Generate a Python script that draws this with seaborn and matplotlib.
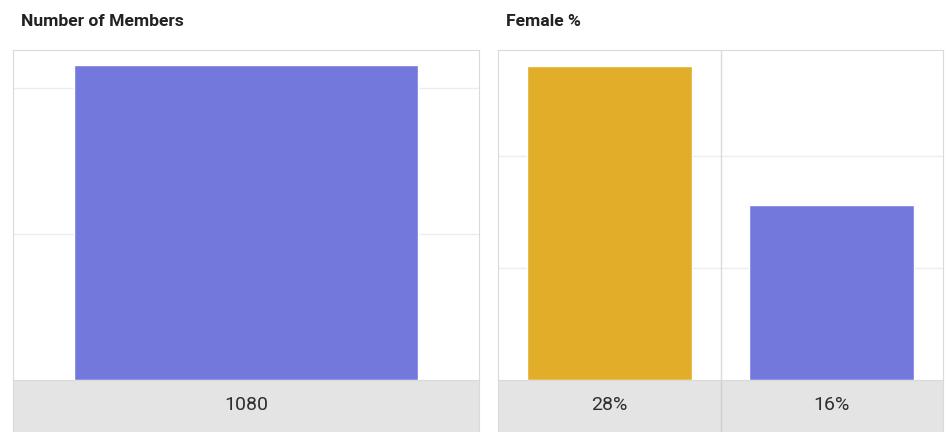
import matplotlib
matplotlib.use("Agg")
import matplotlib.pyplot as plt
import seaborn as sns
import pandas as pd

# chart values
member_labels = ["1080"]
member_counts = [1080]
female_labels = ["28%", "16%"]
female_pct = [28, 15.6]

blue = "#7378DC"
gold = "#E2AE2A"
band_grey = "#E4E4E4"
edge_grey = "#DADADA"
grid_grey = "#EDEDED"

sns.set_style("white")
plt.rcParams["font.family"] = ["Roboto", "DejaVu Sans"]

W, H = 950, 432
fig = plt.figure(figsize=(W / 100, H / 100), dpi=100)


def box(x0, y0, x1, y1):
    # pixel box (top-left origin) -> figure fraction rect
    return [x0 / W, 1 - y1 / H, (x1 - x0) / W, (y1 - y0) / H]


def panel(x0, x1, labels, values, colors, ymax, ticks, title):
    ax = fig.add_axes(box(x0, 50, x1, 380))
    band = fig.add_axes(box(x0, 380, x1, 432))
    df = pd.DataFrame({"cat": labels, "val": values})
    sns.barplot(data=df, x="cat", y="val", hue="cat", palette=colors,
                width=0.74, legend=False, saturation=1, ax=ax)
    ax.set_ylim(0, ymax)
    ax.set_yticks(ticks)
    ax.yaxis.grid(True, color=grid_grey, lw=1)
    ax.set_axisbelow(True)
    ax.set_xlabel("")
    ax.set_ylabel("")
    ax.tick_params(left=False, bottom=False, labelleft=False, labelbottom=False)
    for s in ax.spines.values():
        s.set_color(edge_grey)
    ax.spines["bottom"].set_visible(False)

    band.set_facecolor(band_grey)
    band.set_xlim(ax.get_xlim())
    band.set_ylim(0, 1)
    band.set_xticks([])
    band.set_yticks([])
    for s in band.spines.values():
        s.set_color(edge_grey)
    band.spines["bottom"].set_visible(False)
    for i, lab in enumerate(labels):
        band.text(i, 0.52, lab, ha="center", va="center", fontsize=14, color="#2E2E2E")
        if i > 0:
            ax.axvline(i - 0.5, color=edge_grey, lw=1)
            band.axvline(i - 0.5, color="#CFCFCF", lw=1)

    fig.text(x0 / W + 8 / W, 1 - 21 / H, title, ha="left", va="center",
             fontsize=12.6, fontweight="bold", color="#222222")


panel(13, 479, member_labels, member_counts, [blue], 1130, [500, 1000],
      "Number of Members")
panel(498, 943, female_labels, female_pct, [gold, blue], 29.4, [10, 20],
      "Female %")

fig.savefig("out.png", dpi=100, facecolor="white")
